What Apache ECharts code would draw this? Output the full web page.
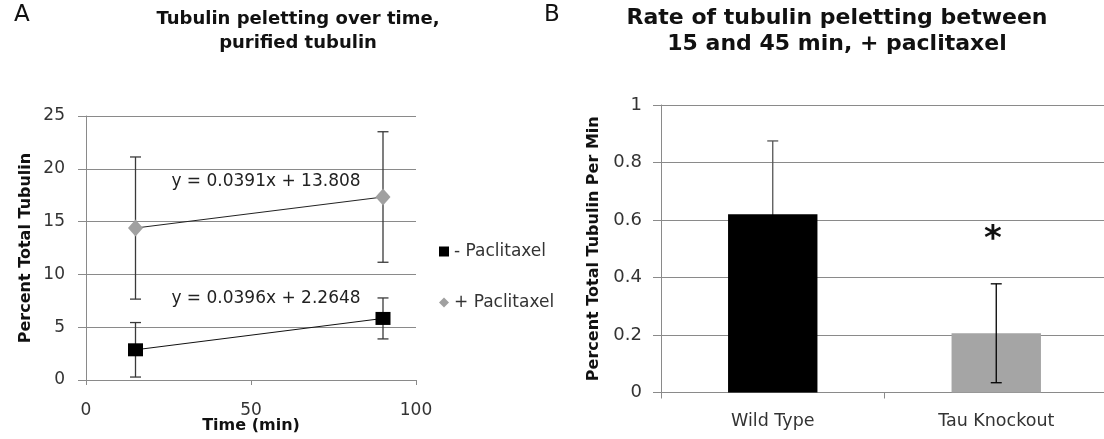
<!DOCTYPE html>
<html>
<head>
<meta charset="utf-8">
<script src="https://cdn.jsdelivr.net/npm/echarts@6/dist/echarts.min.js"></script>
<style>
  html, body { margin: 0; padding: 0; background: #ffffff; }
  #chart { width: 1104px; height: 439px; }
</style>
</head>
<body>
<div id="chart"></div>
<script>
// ---------- Data ----------
// Panel A
const timeMin = [15, 90];
const minusPaclitaxel = [2.86, 5.83];
const minusPaclitaxelErr = [2.58, 1.94];
const plusPaclitaxel = [14.39, 17.33];
const plusPaclitaxelErr = [6.73, 6.18];
const trendEquations = ['y = 0.0391x + 13.808', 'y = 0.0396x + 2.2648'];
const seriesNamesA = ['- Paclitaxel', '+ Paclitaxel'];
// Panel B
const categoriesB = ['Wild Type', 'Tau Knockout'];
const rateB = [0.62, 0.206];
const rateErrB = [0.255, 0.172];
// Titles
const titleA = 'Tubulin peletting over time,\npurified tubulin';
const titleB = 'Rate of tubulin peletting between\n15 and 45 min, + paclitaxel';

// ---------- Styling ----------
const FONT = 'DejaVu Sans';
const GRID_COLOR = '#8a8a8a';
const LABEL_COLOR = '#333333';

function errorBars(xAxisIndex, yAxisIndex, xs, ys, errs, color, z) {
  const data = xs.map((x, i) => [x, ys[i] - errs[i], ys[i] + errs[i]]);
  return {
    type: 'custom',
    xAxisIndex: xAxisIndex,
    yAxisIndex: yAxisIndex,
    z: z,
    silent: true,
    data: data,
    renderItem: function (params, api) {
      const x = api.value(0);
      const lo = api.coord([x, api.value(1)]);
      const hi = api.coord([x, api.value(2)]);
      const hw = 5.5;
      const style = { stroke: color, lineWidth: 1.3 };
      return {
        type: 'group',
        children: [
          { type: 'line', shape: { x1: lo[0], y1: lo[1], x2: hi[0], y2: hi[1] }, style: style },
          { type: 'line', shape: { x1: hi[0] - hw, y1: hi[1], x2: hi[0] + hw, y2: hi[1] }, style: style },
          { type: 'line', shape: { x1: lo[0] - hw, y1: lo[1], x2: lo[0] + hw, y2: lo[1] }, style: style }
        ]
      };
    }
  };
}

const chart = echarts.init(document.getElementById('chart'), null, { renderer: 'canvas' });

const option = {
  backgroundColor: '#ffffff',
  animation: false,
  textStyle: { fontFamily: FONT },
  grid: [
    { left: 86, top: 116, width: 330, height: 264, containLabel: false, outerBoundsMode: 'none' },
    { left: 661, top: 105, width: 447, height: 287.5, containLabel: false, outerBoundsMode: 'none' }
  ],
  xAxis: [
    {
      gridIndex: 0, type: 'value', min: 0, max: 100, interval: 50,
      name: 'Time (min)', nameLocation: 'middle', nameGap: 38, nameMoveOverlap: false,
      nameTextStyle: { fontFamily: FONT, fontWeight: 'bold', fontSize: 16, color: '#111' },
      axisLine: { show: true, onZero: false, lineStyle: { color: GRID_COLOR, width: 1 } },
      axisTick: { show: true, length: 5, lineStyle: { color: GRID_COLOR } },
      splitLine: { show: false },
      axisLabel: { fontFamily: FONT, fontSize: 17, color: LABEL_COLOR, margin: 22 }
    },
    {
      gridIndex: 1, type: 'category', data: categoriesB,
      axisLine: { show: true, lineStyle: { color: GRID_COLOR, width: 1 } },
      axisTick: { show: true, length: 6, alignWithLabel: false, lineStyle: { color: GRID_COLOR } },
      axisLabel: { fontFamily: FONT, fontSize: 17.5, color: LABEL_COLOR, margin: 20 }
    }
  ],
  yAxis: [
    {
      gridIndex: 0, type: 'value', min: 0, max: 25, interval: 5,
      name: 'Percent Total Tubulin', nameLocation: 'middle', nameGap: 52, nameMoveOverlap: false,
      nameTextStyle: { fontFamily: FONT, fontWeight: 'bold', fontSize: 16, color: '#111' },
      axisLine: { show: true, lineStyle: { color: GRID_COLOR, width: 1 } },
      axisTick: { show: true, length: 8, lineStyle: { color: GRID_COLOR } },
      splitLine: { show: true, lineStyle: { color: GRID_COLOR, width: 1 } },
      axisLabel: { fontFamily: FONT, fontSize: 17, color: LABEL_COLOR, margin: 21 }
    },
    {
      gridIndex: 1, type: 'value', min: 0, max: 1, interval: 0.2,
      name: 'Percent Total Tubulin Per Min', nameLocation: 'middle', nameGap: 59, nameMoveOverlap: false,
      nameTextStyle: { fontFamily: FONT, fontWeight: 'bold', fontSize: 16, color: '#111' },
      axisLine: { show: true, lineStyle: { color: GRID_COLOR, width: 1 } },
      axisTick: { show: true, length: 8, lineStyle: { color: GRID_COLOR } },
      splitLine: { show: true, lineStyle: { color: GRID_COLOR, width: 1 } },
      axisLabel: { fontFamily: FONT, fontSize: 18, color: LABEL_COLOR, margin: 19 }
    }
  ],
  legend: {
    data: [
      { name: seriesNamesA[0], icon: 'rect' },
      { name: seriesNamesA[1], icon: 'diamond' }
    ],
    orient: 'vertical',
    left: 434, top: 238,
    itemWidth: 10, itemHeight: 10, itemGap: 34,
    textStyle: { fontFamily: FONT, fontSize: 17, color: LABEL_COLOR },
    selectedMode: false
  },
  series: [
    errorBars(0, 0, timeMin, minusPaclitaxel, minusPaclitaxelErr, '#3a3a3a', 2),
    errorBars(0, 0, timeMin, plusPaclitaxel, plusPaclitaxelErr, '#3a3a3a', 2),
    {
      name: seriesNamesA[0], type: 'line', xAxisIndex: 0, yAxisIndex: 0, z: 3,
      data: timeMin.map((t, i) => [t, minusPaclitaxel[i]]),
      symbol: 'rect', symbolSize: [15, 13],
      itemStyle: { color: '#000000' },
      lineStyle: { color: '#111111', width: 1 }
    },
    {
      name: seriesNamesA[1], type: 'line', xAxisIndex: 0, yAxisIndex: 0, z: 3,
      data: timeMin.map((t, i) => [t, plusPaclitaxel[i]]),
      symbol: 'diamond', symbolSize: [15, 17],
      itemStyle: { color: '#a0a0a0' },
      lineStyle: { color: '#222222', width: 1 }
    },
    // Wild Type error bar sits behind its black bar (only the upper whisker shows)
    errorBars(1, 1, [0], rateB.slice(0, 1), rateErrB.slice(0, 1), '#555555', 1),
    {
      type: 'bar', xAxisIndex: 1, yAxisIndex: 1, z: 2,
      barCategoryGap: '60%',
      data: rateB.map((v, i) => ({ value: v, itemStyle: { color: i === 0 ? '#000000' : '#a5a5a5' } }))
    },
    errorBars(1, 1, [1], rateB.slice(1), rateErrB.slice(1), '#000000', 4)
  ],
  graphic: [
    { type: 'text', left: 14, top: 4, style: { text: 'A', font: '23px "DejaVu Sans"', fill: '#111' } },
    { type: 'text', left: 544, top: 4, style: { text: 'B', font: '23px "DejaVu Sans"', fill: '#111' } },
    { type: 'text', x: 298, y: 31, style: { text: titleA, font: 'bold 18px "DejaVu Sans"', fill: '#111', align: 'center', verticalAlign: 'middle', lineHeight: 24 } },
    { type: 'text', x: 837, y: 31, style: { text: titleB, font: 'bold 22px "DejaVu Sans"', fill: '#111', align: 'center', verticalAlign: 'middle', lineHeight: 26 } },
    { type: 'text', x: 266, y: 182, style: { text: trendEquations[0], font: '17px "DejaVu Sans"', fill: '#222', align: 'center', verticalAlign: 'middle' } },
    { type: 'text', x: 266, y: 299, style: { text: trendEquations[1], font: '17px "DejaVu Sans"', fill: '#222', align: 'center', verticalAlign: 'middle' } },
    { type: 'text', x: 993, y: 240, style: { text: '*', font: 'bold 34px "DejaVu Sans"', fill: '#111', align: 'center', verticalAlign: 'middle' } }
  ]
};

chart.setOption(option);
</script>
</body>
</html>
